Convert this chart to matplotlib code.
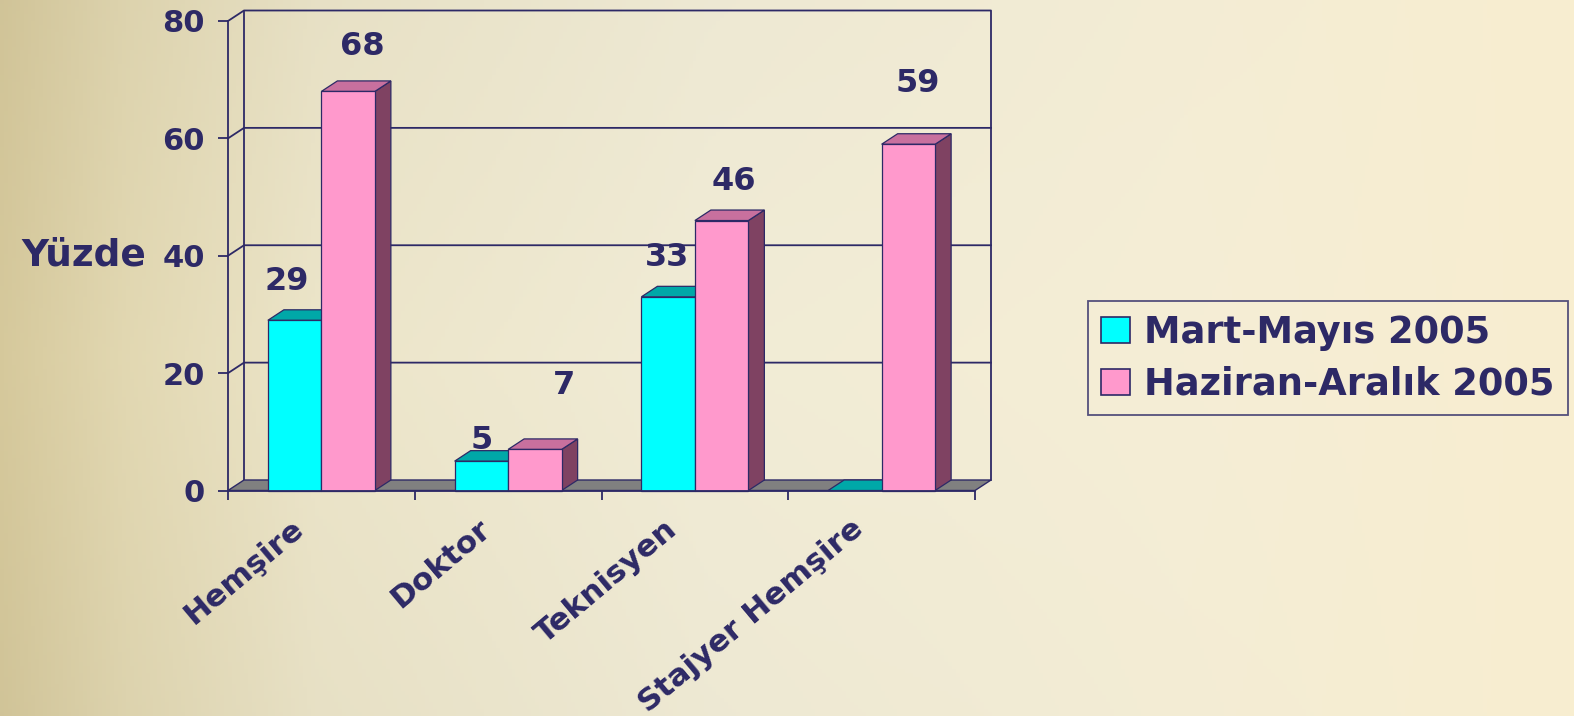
import numpy as np
import matplotlib
matplotlib.use('Agg')
import matplotlib.pyplot as plt
from matplotlib.patches import Polygon, Patch
from matplotlib.transforms import ScaledTranslation

# ---------------- data ----------------
categories = ['Hemşire', 'Doktor', 'Teknisyen', 'Stajyer Hemşire']
series_names = ['Mart-Mayıs 2005', 'Haziran-Aralık 2005']
mart_mayis = [29, 5, 33, 0]
haziran_aralik = [68, 7, 46, 59]
y_ticks = [0, 20, 40, 60, 80]
y_label = 'Yüzde'

# ---------------- style / placement ----------------
NAVY = '#2d2966'
FRONT = ['#00FFFF', '#FF99CC']
TOP = ['#00A8A8', '#C8709E']
SIDE = ['#007F7F', '#7F4262']
FLOOR = '#808080'
# value-label placement (x shift in category units, height above bar in value units)
label_dx = [[-0.04, 0.0, -0.005, 0.0], [0.075, 0.157, 0.067, 0.052]]
label_dy = [[6.65, 3.6, 6.7, 0.0], [7.6, 10.9, 6.7, 10.4]]

plt.rcParams['font.family'] = ['DejaVu Sans']
plt.rcParams['font.weight'] = 'bold'

W, H = 1574, 716
fig = plt.figure(figsize=(W / 100, H / 100), dpi=100)

# background gradient
bg = fig.add_axes([0, 0, 1, 1], zorder=-10)
bg.set_axis_off()
xs = np.linspace(0, 1, 400)
ys = np.linspace(0, 1, 200)
stops = [0.0, 0.08, 0.2, 0.45, 0.75, 1.0]
cols = np.array([[214, 201, 156], [226, 216, 178], [236, 229, 201],
                 [241, 236, 214], [245, 238, 214], [248, 238, 208]]) / 255.0
row = np.stack([np.interp(xs, stops, cols[:, k]) for k in range(3)], axis=-1)
vert = 1.0 - 0.025 * (np.abs(ys - 0.5) * 2)[:, None, None] * (1 - xs)[None, :, None]
img = np.clip(row[None, :, :] * vert, 0, 1)
bg.imshow(img, aspect='auto', extent=[0, 1, 0, 1], origin='upper')
bg.set_xlim(0, 1)
bg.set_ylim(0, 1)

ax = fig.add_axes([228 / W, (H - 490.5) / H, 747 / W, 469.5 / H])
ax.patch.set_alpha(0)
ax.set_xlim(-0.5, 3.5)
ax.set_ylim(0, 80)

DX = 16 / 747 * 4
DY = 10.5 / 469.5 * 80
LW = 1.3
x_lo, x_hi = -0.5, 3.5

# walls
for v in y_ticks[1:-1]:
    ax.plot([x_lo, x_lo + DX, x_hi + DX], [v, v + DY, v + DY], color=NAVY,
            lw=LW, clip_on=False, zorder=1)
ax.plot([x_lo, x_lo + DX, x_hi + DX, x_hi + DX], [80, 80 + DY, 80 + DY, DY],
        color=NAVY, lw=LW, clip_on=False, zorder=1)
ax.plot([x_lo + DX, x_lo + DX], [DY, 80 + DY], color=NAVY, lw=LW,
        clip_on=False, zorder=1)
# floor
ax.add_patch(Polygon([[x_lo, 0], [x_hi, 0], [x_hi + DX, DY], [x_lo + DX, DY]],
                     closed=True, facecolor=FLOOR, edgecolor=NAVY, lw=1.0,
                     clip_on=False, zorder=2))

# bars
bw = 0.2865
series = [mart_mayis, haziran_aralik]
z = 3
for j in range(len(categories)):
    for i, vals in enumerate(series):
        v = vals[j]
        x0 = j - bw if i == 0 else j
        x1 = x0 + bw
        kw = dict(closed=True, edgecolor=NAVY, lw=0.9, clip_on=False)
        ax.add_patch(Polygon([[x1, 0], [x1 + DX, DY], [x1 + DX, v + DY], [x1, v]],
                             facecolor=SIDE[i], zorder=z, **kw))
        ax.add_patch(Polygon([[x0, v], [x1, v], [x1 + DX, v + DY], [x0 + DX, v + DY]],
                             facecolor=TOP[i], zorder=z, **kw))
        if v > 0:
            ax.add_patch(Polygon([[x0, 0], [x1, 0], [x1, v], [x0, v]],
                                 facecolor=FRONT[i], zorder=z + 0.5, **kw))
        z += 1
        if v > 0:
            ax.text((x0 + x1) / 2 + label_dx[i][j], v + label_dy[i][j], f'{v}',
                    ha='center', va='center', fontsize=23, color=NAVY,
                    fontweight='bold', zorder=50, clip_on=False)

# axes spines & ticks
for s in ['top', 'right']:
    ax.spines[s].set_visible(False)
for s in ['left', 'bottom']:
    ax.spines[s].set_color(NAVY)
    ax.spines[s].set_linewidth(LW)
    ax.spines[s].set_zorder(40)

ax.set_yticks(y_ticks)
ax.set_yticklabels([str(t) for t in y_ticks])
ax.tick_params(axis='y', length=7.5, width=LW, color=NAVY, pad=9,
               labelsize=22, labelcolor=NAVY)

ax.set_xticks(np.arange(len(categories) + 1) - 0.5)
ax.set_xticklabels([])
ax.set_xticks(np.arange(len(categories)), minor=True)
ax.set_xticklabels(categories, minor=True, rotation=40, ha='right', va='top',
                   rotation_mode='anchor', fontsize=22.5, color=NAVY,
                   fontweight='bold')
ax.tick_params(axis='x', which='major', length=6.5, width=LW, color=NAVY)
ax.tick_params(axis='x', which='minor', length=0, pad=17)
shift = ScaledTranslation(-0.31, 0, fig.dpi_scale_trans)
for lbl in ax.get_xticklabels(minor=True):
    lbl.set_transform(lbl.get_transform() + shift)

ax.set_ylabel(y_label, rotation=0, fontsize=27, ha='right', va='center',
              color=NAVY, fontweight='bold')
ax.yaxis.set_label_coords(-(228 - 146) / 747, (490.5 - 256) / 469.5)

handles = [Patch(facecolor=FRONT[i], edgecolor=NAVY, lw=1.2) for i in range(2)]
leg = ax.legend(handles, series_names, loc='upper left',
                bbox_to_anchor=(1088 / W, 1 - 301 / H),
                bbox_transform=fig.transFigure, borderaxespad=0,
                fontsize=26.5, labelcolor=NAVY, frameon=True, fancybox=False,
                handlelength=0.78, handleheight=0.72, handletextpad=0.4,
                borderpad=0.35, labelspacing=0.4)
leg.get_frame().set_edgecolor(NAVY)
leg.get_frame().set_linewidth(1.3)
leg.get_frame().set_facecolor('none')
for t in leg.get_texts():
    t.set_fontweight('bold')

fig.savefig('out.png', dpi=100)
